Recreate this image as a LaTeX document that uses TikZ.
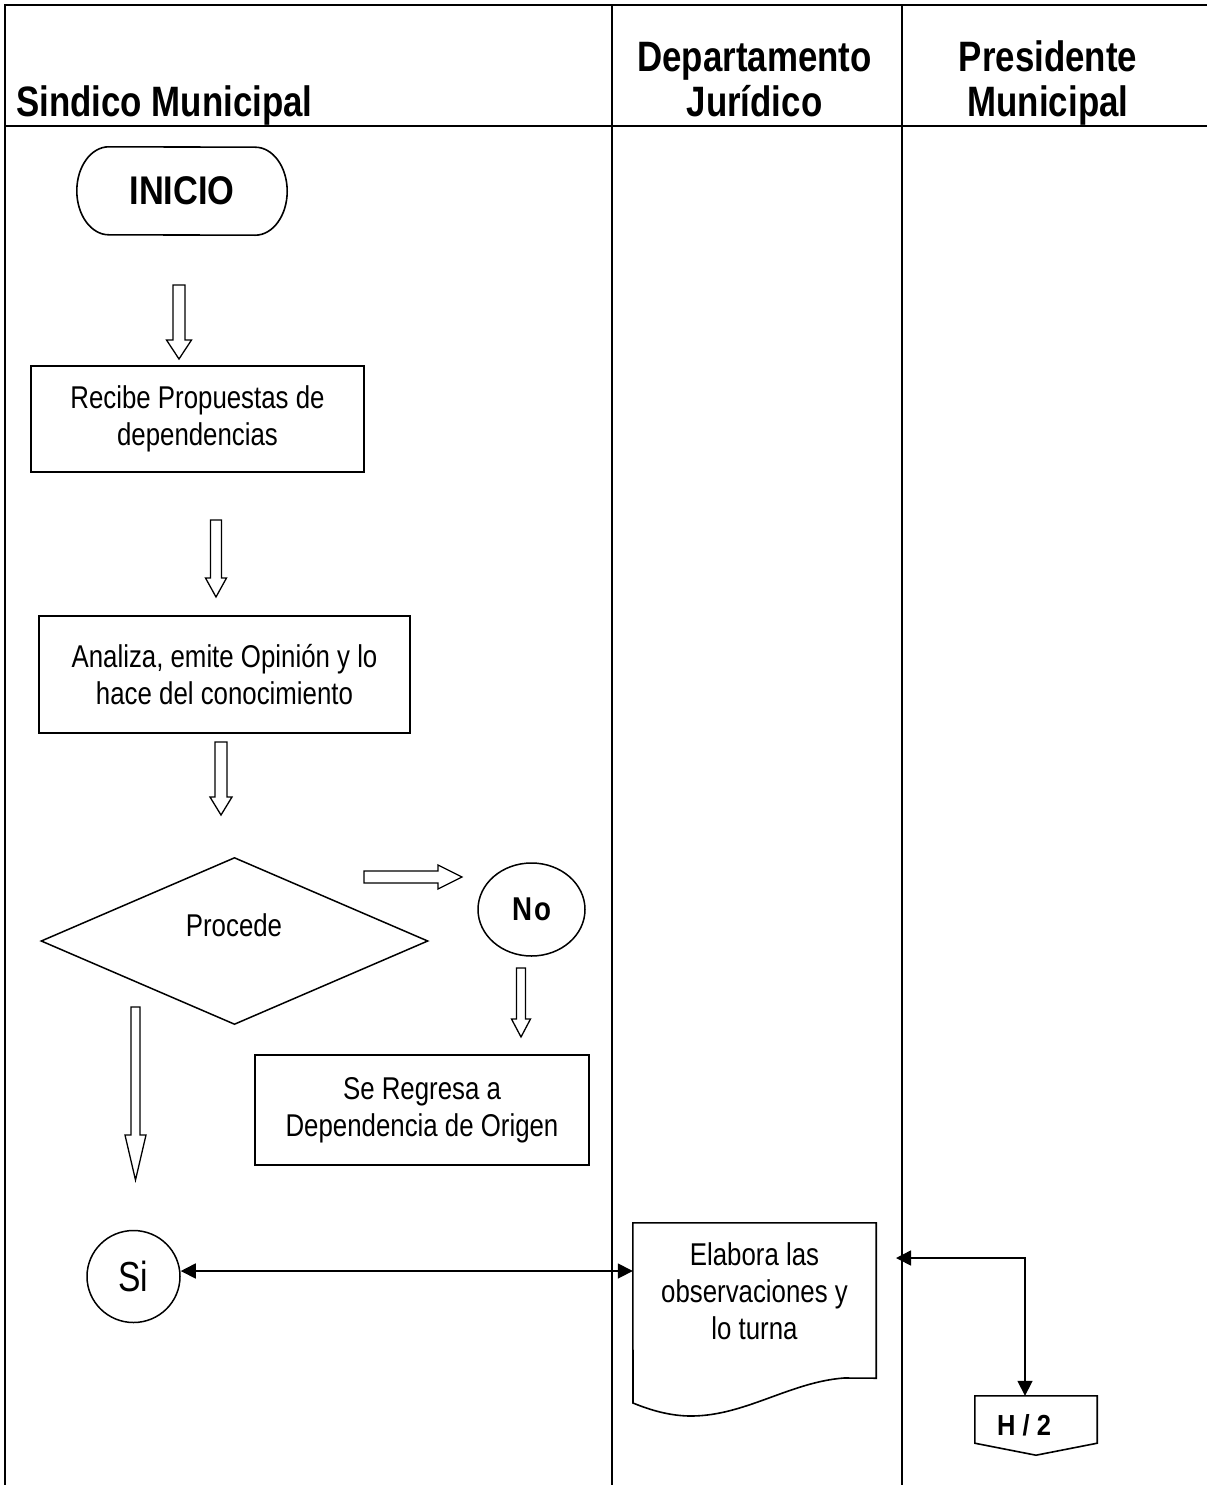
\documentclass[tikz,border=0pt]{standalone}
\usepackage{fontspec}
\setmainfont{Liberation Sans}
\newfontfamily\hdrf{Liberation Sans}[FakeStretch=0.82]
\newfontfamily\inif{Liberation Sans}[FakeStretch=0.86]
\newfontfamily\bodyf{Liberation Sans}[FakeStretch=0.82]
\newfontfamily\sif{Liberation Sans}[FakeStretch=0.8]
\newfontfamily\nof{Liberation Sans}[FakeStretch=0.84]
\newfontfamily\hfont{Liberation Sans}[FakeStretch=0.88]
\usetikzlibrary{shapes.geometric,arrows.meta}
\newcommand{\dnarr}[6]{\draw[barrow] ({#1-#5/2},#2) -- ({#1+#5/2},#2) -- ({#1+#5/2},#3) -- ({#1+#6/2},#3) -- (#1,#4) -- ({#1-#6/2},#3) -- ({#1-#5/2},#3) -- cycle;}
\begin{document}
\begin{tikzpicture}[x=1pt,y=-1pt,
  laneline/.style={line width=2.1pt},
  shapeline/.style={line width=1.6pt, line join=miter},
  mybox/.style={draw, rectangle, line width=1.6pt, inner sep=0pt, align=center, font=\bodyf\fontsize{31.5}{37}\selectfont},
  txt/.style={inner sep=0pt, align=center, font=\bodyf\fontsize{31.5}{37}\selectfont},
  hdr/.style={inner sep=0pt, font=\hdrf\bfseries\fontsize{42.5}{45}\selectfont},
  barrow/.style={draw, line width=1.3pt, fill=white, line join=miter},
  conn/.style={line width=1.6pt},
  tipa/.tip={Triangle[length=15pt,width=15pt]}
]
\useasboundingbox (0,0) rectangle (1207,1485);
% frame
\draw[laneline] (5,1485) -- (5,5) -- (1207,5);
\draw[laneline] (5,126) -- (1207,126);
\draw[laneline] (612,5) -- (612,1485);
\draw[laneline] (902,5) -- (902,1485);
% headers
\node[hdr, anchor=base west] (lane1) at (16,117) {Sindico Municipal};
\node[hdr, anchor=base] (lane2a) at (754.5,72) {Departamento};
\node[hdr, anchor=base] (lane2b) at (754.5,117) {Jurídico};
\node[hdr, anchor=base] (lane3a) at (1048,72) {Presidente};
\node[hdr, anchor=base] (lane3b) at (1048,117) {Municipal};
% inicio
\node[inner sep=0pt, minimum width=210pt, minimum height=88pt, font=\inif\bfseries\fontsize{40}{44}\selectfont] (inicio) at (182,191) {INICIO};
\draw[shapeline] ([xshift=32pt]inicio.north west) arc[start angle=270, end angle=90, x radius=32, y radius=44]
  -- ([xshift=-32pt]inicio.south east) arc[start angle=90, end angle=-90, x radius=32, y radius=44] -- cycle;
\dnarr{179}{285}{340}{359}{12}{25}
% box 1
\node[mybox, minimum width=333pt, minimum height=106pt] (b1) at (197.5,419) {Recibe Propuestas de\\dependencias};
\dnarr{216}{520}{578}{597}{11}{21}
% box 2
\node[mybox, minimum width=371pt, minimum height=117pt] (b2) at (224.5,674.5) {Analiza, emite Opinión y lo\\hace del conocimiento};
\dnarr{221}{742}{797}{815}{12}{22}
% decision
\node[draw, diamond, minimum width=387pt, minimum height=167pt, inner sep=0pt, line width=1.5pt] (dec) at (234.5,941) {};
\node[txt] (dectxt) at (234,925) {Procede};
\draw[barrow] (364,871) -- (438,871) -- (438,865) -- (462,877) -- (438,889) -- (438,883) -- (364,883) -- cycle;
\node[draw, ellipse, minimum width=107pt, minimum height=93pt, inner sep=0pt, line width=1.5pt, font=\nof\bfseries\fontsize{33}{36}\selectfont] (no) at (531.5,909.5) {N\kern2pt o};
\dnarr{521}{968}{1019}{1037}{9}{19}
\node[mybox, minimum width=334pt, minimum height=110pt] (b3) at (422,1110) {Se Regresa a\\Dependencia de Origen};
\dnarr{135.5}{1007}{1135}{1180}{9}{21}
% si
\node[draw, ellipse, minimum width=93pt, minimum height=92pt, inner sep=0pt, line width=1.5pt, font=\sif\fontsize{42}{44}\selectfont] (si) at (133.5,1276.5) {Si};
% document
\node[inner sep=0pt, minimum width=243pt, minimum height=155pt] (doc) at (754.5,1300.5) {};
\draw[shapeline] (doc.south east) -- (doc.north east) -- (doc.north west) -- (633,1403)
  .. controls (650,1410) and (670,1416) .. (691,1416)
  .. controls (745,1416) and (790,1382) .. (844,1378) -- cycle;
\node[txt] (doctxt) at (754.5,1291) {Elabora las\\observaciones y\\lo turna};
\draw[conn, tipa-tipa] ([yshift=5.5pt]si.east) -- ([yshift=5.5pt]si.east -| doc.west);
% H/2
\node[inner sep=0pt, minimum width=122pt, minimum height=47pt] (h2) at (1036,1419.5) {};
\draw[shapeline] (h2.north west) -- (h2.north east) -- (h2.south east) -- ([yshift=-12pt]h2.south) -- (h2.south west) -- cycle;
\node[inner sep=0pt, font=\hfont\bfseries\fontsize{29}{34}\selectfont] (h2txt) at (1024,1425) {H / 2};
\coordinate (jin) at (896,1258);
\draw[conn, tipa-tipa] (jin) -| ([xshift=-11pt]h2.north);
\end{tikzpicture}
\end{document}
